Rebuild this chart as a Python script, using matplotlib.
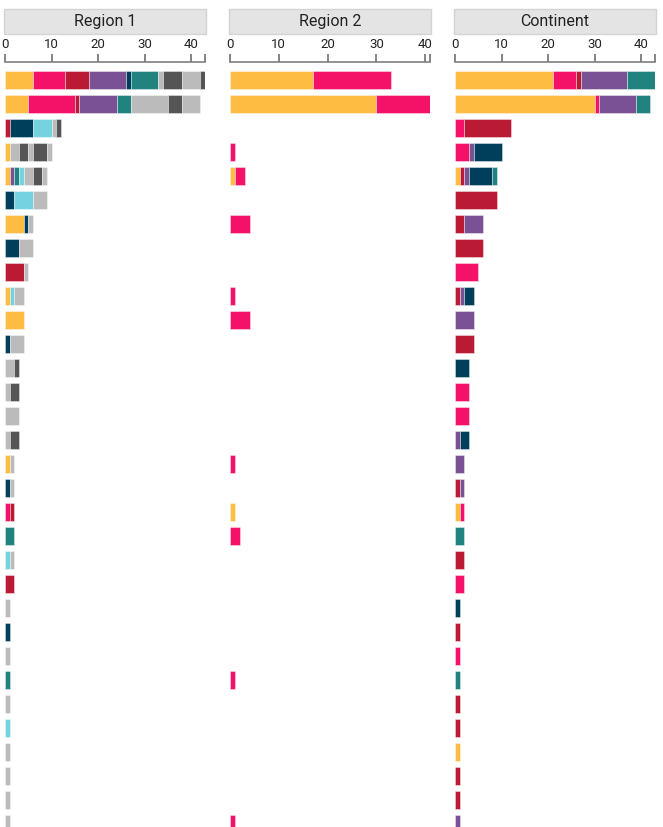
import numpy as np
import matplotlib.pyplot as plt

# stack order: yellow, pink, crimson, purple, navy, teal, cyan, then alternating greys
seg_colors = ["#FFBC42", "#F41268", "#BA1A33", "#7A5195", "#003F5C", "#218380",
              "#75D3DF", "#BBBBBB", "#555555", "#BBBBBB", "#555555", "#BBBBBB"]

panels = ["Region 1", "Region 2", "Continent"]
ticks = [0, 10, 20, 30, 40]

#            Y   P   C  Pu   N   T  Cy  g1  g2  g3  g4  g5
region1 = [[6,  7,  5,  8,  1,  6,  0,  1,  4,  4,  1,  0],
           [5, 10,  1,  8,  0,  3,  0,  8,  3,  4,  0,  0],
           [0,  0,  1,  0,  5,  0,  4,  1,  1,  0,  0,  0],
           [1,  0,  0,  0,  0,  0,  0,  2,  2,  1,  3,  1],
           [1,  0,  0,  1,  0,  1,  1,  2,  2,  1,  0,  0],
           [0,  0,  0,  0,  2,  0,  4,  3,  0,  0,  0,  0],
           [4,  0,  0,  0,  1,  0,  0,  1,  0,  0,  0,  0],
           [0,  0,  0,  0,  3,  0,  0,  3,  0,  0,  0,  0],
           [0,  0,  4,  0,  0,  0,  0,  1,  0,  0,  0,  0],
           [1,  0,  0,  0,  0,  0,  1,  2,  0,  0,  0,  0],
           [4,  0,  0,  0,  0,  0,  0,  0,  0,  0,  0,  0],
           [0,  0,  0,  0,  1,  0,  0,  3,  0,  0,  0,  0],
           [0,  0,  0,  0,  0,  0,  0,  2,  1,  0,  0,  0],
           [0,  0,  0,  0,  0,  0,  0,  1,  2,  0,  0,  0],
           [0,  0,  0,  0,  0,  0,  0,  3,  0,  0,  0,  0],
           [0,  0,  0,  0,  0,  0,  0,  1,  2,  0,  0,  0],
           [1,  0,  0,  0,  0,  0,  0,  1,  0,  0,  0,  0],
           [0,  0,  0,  0,  1,  0,  0,  1,  0,  0,  0,  0],
           [0,  1,  1,  0,  0,  0,  0,  0,  0,  0,  0,  0],
           [0,  0,  0,  0,  0,  2,  0,  0,  0,  0,  0,  0],
           [0,  0,  0,  0,  0,  0,  1,  1,  0,  0,  0,  0],
           [0,  0,  2,  0,  0,  0,  0,  0,  0,  0,  0,  0],
           [0,  0,  0,  0,  0,  0,  0,  1,  0,  0,  0,  0],
           [0,  0,  0,  0,  1,  0,  0,  0,  0,  0,  0,  0],
           [0,  0,  0,  0,  0,  0,  0,  1,  0,  0,  0,  0],
           [0,  0,  0,  0,  0,  1,  0,  0,  0,  0,  0,  0],
           [0,  0,  0,  0,  0,  0,  0,  1,  0,  0,  0,  0],
           [0,  0,  0,  0,  0,  0,  1,  0,  0,  0,  0,  0],
           [0,  0,  0,  0,  0,  0,  0,  1,  0,  0,  0,  0],
           [0,  0,  0,  0,  0,  0,  0,  1,  0,  0,  0,  0],
           [0,  0,  0,  0,  0,  0,  0,  1,  0,  0,  0,  0],
           [0,  0,  0,  0,  0,  0,  0,  1,  0,  0,  0,  0]]

# region 2 only has yellow and pink
region2_yellow = [17, 30, 0, 0, 1, 0, 0, 0, 0, 0, 0, 0, 0, 0, 0, 0,
                  0, 0, 1, 0, 0, 0, 0, 0, 0, 0, 0, 0, 0, 0, 0, 0]
region2_pink = [16, 11, 0, 1, 2, 0, 4, 0, 0, 1, 4, 0, 0, 0, 0, 0,
                1, 0, 0, 2, 0, 0, 0, 0, 0, 1, 0, 0, 0, 0, 0, 1]

#              Y   P   C  Pu   N   T
continent = [[21,  5,  1, 10,  0,  6],
             [30,  1,  0,  8,  0,  3],
             [0,   2, 10,  0,  0,  0],
             [0,   3,  0,  1,  6,  0],
             [1,   0,  1,  1,  5,  1],
             [0,   0,  9,  0,  0,  0],
             [0,   0,  2,  4,  0,  0],
             [0,   0,  6,  0,  0,  0],
             [0,   5,  0,  0,  0,  0],
             [0,   0,  1,  1,  2,  0],
             [0,   0,  0,  4,  0,  0],
             [0,   0,  4,  0,  0,  0],
             [0,   0,  0,  0,  3,  0],
             [0,   3,  0,  0,  0,  0],
             [0,   3,  0,  0,  0,  0],
             [0,   0,  0,  1,  2,  0],
             [0,   0,  0,  2,  0,  0],
             [0,   0,  1,  1,  0,  0],
             [1,   1,  0,  0,  0,  0],
             [0,   0,  0,  0,  0,  2],
             [0,   0,  2,  0,  0,  0],
             [0,   2,  0,  0,  0,  0],
             [0,   0,  0,  0,  1,  0],
             [0,   0,  1,  0,  0,  0],
             [0,   1,  0,  0,  0,  0],
             [0,   0,  0,  0,  0,  1],
             [0,   0,  1,  0,  0,  0],
             [0,   0,  1,  0,  0,  0],
             [1,   0,  0,  0,  0,  0],
             [0,   0,  1,  0,  0,  0],
             [0,   0,  1,  0,  0,  0],
             [0,   0,  0,  1,  0,  0]]

r2 = np.zeros((32, 12))
r2[:, 0] = region2_yellow
r2[:, 1] = region2_pink
cont = np.zeros((32, 12))
cont[:, :6] = continent
data = [np.array(region1, dtype=float), r2, cont]

plt.rcParams['font.family'] = ['Roboto', 'DejaVu Sans']

W, H = 663, 827
fig = plt.figure(figsize=(W / 100, H / 100), dpi=100)
fig.patch.set_facecolor("white")

lefts = [5, 230, 455]
pw = 200
top_px = 62

for p, name in enumerate(panels):
    vals = data[p]
    n = vals.shape[0]
    ax = fig.add_axes([lefts[p] / W, 0, pw / W, (H - top_px) / H])
    y = np.arange(n)
    left = np.zeros(n)
    for c in range(vals.shape[1]):
        w = vals[:, c]
        m = w > 0
        ax.barh(y[m], w[m], left=left[m], height=0.75, color=seg_colors[c],
                edgecolor=(1, 1, 1, 0.45), linewidth=0.6)
        left += w
    xmax = vals.sum(axis=1).max()
    ax.set_xlim(0, xmax)
    ax.set_ylim(31.125, -0.75)
    ax.set_yticks([])
    for s in ["left", "right", "bottom"]:
        ax.spines[s].set_visible(False)
    ax.spines["top"].set_color("#808080")
    ax.spines["top"].set_linewidth(1.2)
    ax.xaxis.tick_top()
    ax.set_xticks(ticks)
    ax.set_xticks([xmax], minor=True)
    ax.tick_params(axis="x", which="both", direction="out", length=6, width=1.2,
                   color="#707070", labelsize=9.5, labelcolor="#222222", pad=2)
    ax.patch.set_alpha(0)

    # facet header box
    hx = (lefts[p] - 1) / W
    hy = 1 - 34 / H
    fig.patches.append(plt.Rectangle((hx, hy), (pw + 2) / W, 25 / H,
                                     transform=fig.transFigure, facecolor="#E4E4E4",
                                     edgecolor="#D3D3D3", linewidth=1))
    fig.text((lefts[p] + pw / 2) / W, 1 - 21.5 / H, name, ha="center", va="center",
             fontsize=11.5, color="#222222")

fig.savefig("out.png", dpi=100)
